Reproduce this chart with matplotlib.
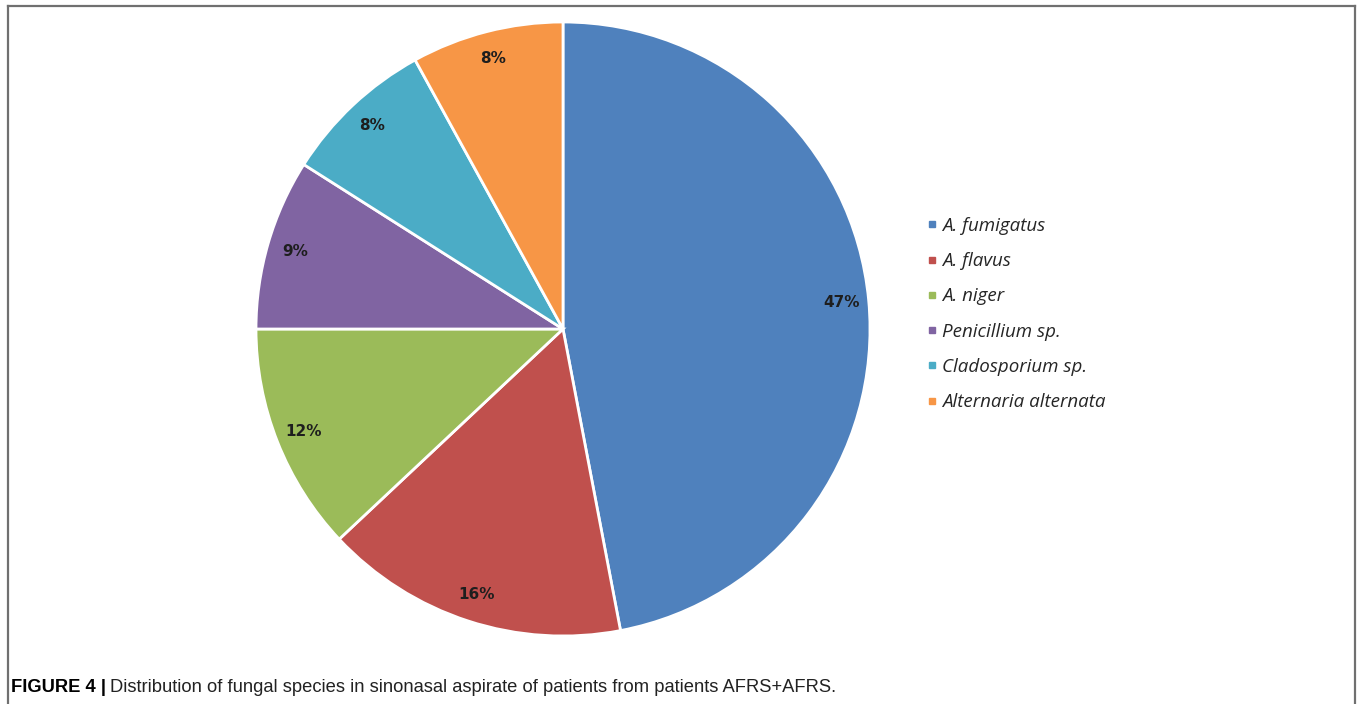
import matplotlib
matplotlib.use("Agg")
import matplotlib.pyplot as plt
from matplotlib.lines import Line2D

# data
species = ["A. fumigatus", "A. flavus", "A. niger", "Penicillium sp.",
           "Cladosporium sp.", "Alternaria alternata"]
percent = [47, 16, 12, 9, 8, 8]
colors = ["#4F81BD", "#C0504D", "#9BBB59", "#8064A2", "#4BACC6", "#F79646"]

W, H = 1360, 704
fig = plt.figure(figsize=(W / 100, H / 100), dpi=100)

# pie axes: centre (563, 329) px, radius ~307 px
cx, cy, r = 563, 329, 307
ax = fig.add_axes([(cx - r) / W, (H - cy - r) / H, 2 * r / W, 2 * r / H])
wedges, texts, autotexts = ax.pie(
    percent, colors=colors, startangle=90, counterclock=False,
    autopct="%d%%", pctdistance=0.91, radius=1,
    wedgeprops=dict(edgecolor="white", linewidth=2),
    textprops=dict(fontsize=11, fontweight="bold", color="#1e1e1e"))
ax.set_xlim(-1, 1)
ax.set_ylim(-1, 1)
ax.set_aspect("auto")
ax.axis("off")

# legend
handles = [Line2D([], [], marker="s", linestyle="none", markersize=5,
                  markerfacecolor=c, markeredgecolor=c) for c in colors]
fig.legend(handles, species, loc="center left",
           bbox_to_anchor=(927 / W, 1 - 314 / H), frameon=False,
           prop=dict(family="Open Sans", style="italic", size=13.5),
           labelspacing=0.92, handlelength=0.55, handletextpad=0.27,
           borderpad=0, borderaxespad=0, labelcolor="#262626")

# frame (open at bottom)
frame_kw = dict(color="#707070", linewidth=1.6, transform=fig.transFigure)
fig.add_artist(Line2D([8 / W, 8 / W], [0, 1 - 6 / H], **frame_kw))
fig.add_artist(Line2D([8 / W, 1355 / W], [1 - 6 / H, 1 - 6 / H], **frame_kw))
fig.add_artist(Line2D([1355 / W, 1355 / W], [0, 1 - 6 / H], **frame_kw))

# caption
t1 = fig.text(11 / W, 1 - 688 / H, "FIGURE 4 |", fontsize=13.2,
              fontweight="bold", family="Liberation Sans", va="center")
fig.canvas.draw()
bb = t1.get_window_extent()
fig.text((bb.x1 + 4) / W, 1 - 688 / H,
         "Distribution of fungal species in sinonasal aspirate of patients from patients AFRS+AFRS.",
         fontsize=13.2, family="Liberation Sans", va="center", color="#222222")

fig.savefig("out.png", dpi=100, facecolor="white")
